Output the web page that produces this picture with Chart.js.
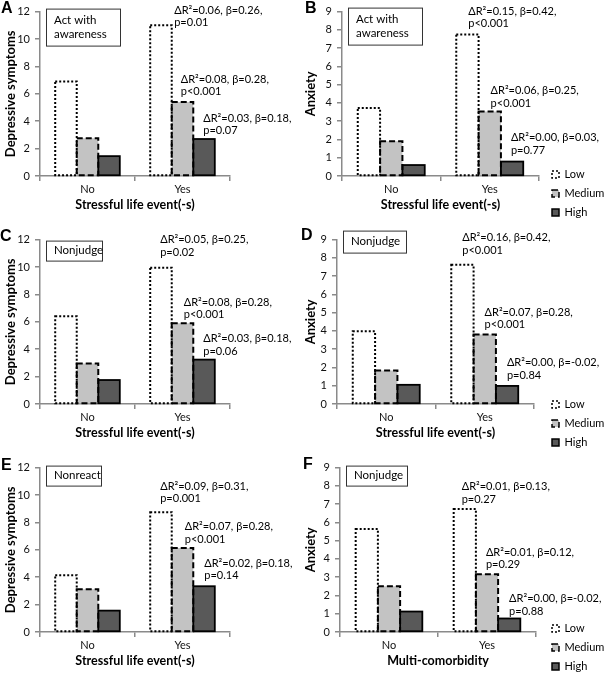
<!DOCTYPE html>
<html>
<head>
<meta charset="utf-8">
<script src="https://cdn.jsdelivr.net/npm/chart.js@4"></script>
<style>
  body { margin: 0; background: #fff; }
  #fig { position: relative; width: 604px; height: 673px; }
  #fig canvas { position: absolute; }
</style>
</head>
<body>
<div id="fig">
  <canvas id="pA" width="300" height="222" style="left:0;top:0"></canvas>
  <canvas id="pB" width="304" height="222" style="left:300px;top:0"></canvas>
  <canvas id="pC" width="300" height="222" style="left:0;top:228px"></canvas>
  <canvas id="pD" width="304" height="222" style="left:300px;top:228px"></canvas>
  <canvas id="pE" width="300" height="217" style="left:0;top:456px"></canvas>
  <canvas id="pF" width="304" height="217" style="left:300px;top:456px"></canvas>
</div>
<script>
// categories and levels
const groups = ["No", "Yes"];
const levels = ["Low", "Medium", "High"];

// mean scores per panel (No, Yes)
const aLow = [6.9, 11.0], aMed = [2.75, 5.4], aHigh = [1.45, 2.7];
const bLow = [3.72, 7.75], bMed = [1.9, 3.53], bHigh = [0.6, 0.79];
const cLow = [6.4, 9.95], cMed = [2.95, 5.9], cHigh = [1.75, 3.24];
const dLow = [3.98, 7.62], dMed = [1.84, 3.81], dHigh = [1.05, 0.99];
const eLow = [4.15, 8.75], eMed = [3.12, 6.14], eHigh = [1.56, 3.34];
const fLow = [5.64, 6.74], fMed = [2.51, 3.16], fHigh = [1.12, 0.74];

// regression notes for the "Yes" bars (Low, Medium, High)
const aNotes = [["ΔR²=0.06, β=0.26,", "p=0.01"], ["ΔR²=0.08, β=0.28,", "p<0.001"], ["ΔR²=0.03, β=0.18,", "p=0.07"]];
const bNotes = [["ΔR²=0.15, β=0.42,", "p<0.001"], ["ΔR²=0.06, β=0.25,", "p<0.001"], ["ΔR²=0.00, β=0.03,", "p=0.77"]];
const cNotes = [["ΔR²=0.05, β=0.25,", "p=0.02"], ["ΔR²=0.08, β=0.28,", "p<0.001"], ["ΔR²=0.03, β=0.18,", "p=0.06"]];
const dNotes = [["ΔR²=0.16, β=0.42,", "p<0.001"], ["ΔR²=0.07, β=0.28,", "p<0.001"], ["ΔR²=0.00, β=-0.02,", "p=0.84"]];
const eNotes = [["ΔR²=0.09, β=0.31,", "p=0.001"], ["ΔR²=0.07, β=0.28,", "p<0.001"], ["ΔR²=0.02, β=0.18,", "p=0.14"]];
const fNotes = [["ΔR²=0.01, β=0.13,", "p=0.27"], ["ΔR²=0.01, β=0.12,", "p=0.29"], ["ΔR²=0.00, β=-0.02,", "p=0.88"]];

const FONT = "Lato, 'DejaVu Sans', sans-serif";
const AXIS = "#8a8a8a";

const panels = [
  { id: "pA", letter: "A", letterAt: [1, 9], yTitle: "Depressive symptoms", xTitle: "Stressful life event(-s)",
    yMax: 12, yStep: 2, vals: [aLow, aMed, aHigh], notes: aNotes,
    noteAt: [[24, -15], [9, -23], [10, -21]], boxText: ["Act with", "awareness"], box: [6, -3, 74, 37],
    yWidth: 40, padRight: 70, padBottom: 5 },
  { id: "pB", letter: "B", letterAt: [5, 9], yTitle: "Anxiety", xTitle: "Stressful life event(-s)",
    yMax: 9, yStep: 1, vals: [bLow, bMed, bHigh], notes: bNotes,
    noteAt: [[12, -23], [12, -21], [10, -24]], boxText: ["Act with", "awareness"], box: [6, -4, 74, 37],
    yWidth: 42, padRight: 5, padBottom: 5, legend: true, legendDy: 9 },
  { id: "pC", letter: "C", letterAt: [0, 9], yTitle: "Depressive symptoms", xTitle: "Stressful life event(-s)",
    yMax: 12, yStep: 2, vals: [cLow, cMed, cHigh], notes: cNotes,
    noteAt: [[10, -28], [12, -21], [10, -21]], boxText: ["Nonjudge"], box: [6, 1, 56, 20],
    yWidth: 40, padRight: 70, padBottom: 5 },
  { id: "pD", letter: "D", letterAt: [1, 8], yTitle: "Anxiety", xTitle: "Stressful life event(-s)",
    yMax: 9, yStep: 1, vals: [dLow, dMed, dHigh], notes: dNotes,
    noteAt: [[11, -27], [11, -22], [11, -23]], boxText: ["Nonjudge"], box: [6, -9, 63, 22],
    yWidth: 37, padRight: 10, padBottom: 5, legend: true, legendDy: 11 },
  { id: "pE", letter: "E", letterAt: [1, 10], yTitle: "Depressive symptoms", xTitle: "Stressful life event(-s)",
    yMax: 12, yStep: 2, vals: [eLow, eMed, eHigh], notes: eNotes,
    noteAt: [[10, -26], [13, -21], [11, -23]], boxText: ["Nonreact"], box: [6, -2, 55, 20],
    yWidth: 40, padRight: 70, padBottom: 0 },
  { id: "pF", letter: "F", letterAt: [3, 9], yTitle: "Anxiety", xTitle: "Multi-comorbidity",
    yMax: 9, yStep: 1, vals: [fLow, fMed, fHigh], notes: fNotes,
    noteAt: [[8, -22], [10, -22], [11, -20]], boxText: ["Nonjudge"], box: [6, -2, 61, 20],
    yWidth: 40, padRight: 8, padBottom: 0, legend: true, legendDy: 7 }
];

const barStyles = [
  { fill: "#ffffff", dash: [2, 2], width: 2 },
  { fill: "#c3c3c3", dash: [6, 3], width: 2 },
  { fill: "#595959", dash: [], width: 1.8 }
];

// Chart.js bars can't dash their borders, so stroke the outlines ourselves
const outlines = {
  id: "outlines",
  afterDatasetsDraw(chart) {
    const ctx = chart.ctx;
    chart.data.datasets.forEach((ds, i) => {
      const meta = chart.getDatasetMeta(i);
      ctx.save();
      ctx.strokeStyle = "#000";
      ctx.lineWidth = ds.edgeWidth;
      ctx.setLineDash(ds.edgeDash);
      meta.data.forEach(bar => {
        const { x, y, base, width } = bar.getProps(["x", "y", "base", "width"], true);
        ctx.strokeRect(x - width / 2, y, width, base - y);
      });
      ctx.restore();
    });
  }
};

// letter, subscale box and the regression notes
const notes = {
  id: "notes",
  afterDraw(chart, args, o) {
    const { ctx, chartArea: ca } = chart;
    ctx.save();
    ctx.textAlign = "left";
    ctx.textBaseline = "middle";
    ctx.fillStyle = "#000";
    ctx.font = "bold 16px 'Liberation Sans', Arial, sans-serif";
    ctx.fillText(o.letter, o.letterAt[0], o.letterAt[1]);

    const [bx, by, bw, bh] = o.box;
    const x0 = ca.left + bx, y0 = Math.max(ca.top + by, 0.5);
    ctx.fillStyle = "#fff";
    ctx.fillRect(x0, y0, bw, bh);
    ctx.strokeStyle = "#333";
    ctx.lineWidth = 1;
    ctx.strokeRect(x0 + 0.5, y0 + 0.5, bw, bh);
    ctx.fillStyle = "#000";
    ctx.font = "11.5px " + FONT;
    const n = o.boxText.length;
    o.boxText.forEach((t, k) => {
      ctx.fillText(t, x0 + 8, y0 + bh / 2 + (k - (n - 1) / 2) * 14);
    });

    ctx.font = "11px " + FONT;
    o.notes.forEach((lines, i) => {
      const bar = chart.getDatasetMeta(i).data[1];
      const left = bar.x - bar.width / 2 + o.noteAt[i][0];
      const top = bar.y + o.noteAt[i][1];
      lines.forEach((t, k) => ctx.fillText(t, left, top + k * 12.5));
    });
    ctx.restore();
  }
};

// nudge the legend to where it sits in the figure
const legendShift = {
  id: "legendShift",
  afterLayout(chart, args, o) {
    const lg = chart.legend;
    if (!lg || o.left == null) return;
    const dx = o.left - lg.left;
    lg.left += dx; lg.right += dx;
    lg.top += o.dy; lg.bottom += o.dy;
  }
};

panels.forEach(p => {
  const datasets = levels.map((name, i) => ({
    label: name,
    data: p.vals[i],
    backgroundColor: barStyles[i].fill,
    borderWidth: 0,
    edgeDash: barStyles[i].dash,
    edgeWidth: barStyles[i].width,
    categoryPercentage: 0.68,
    barPercentage: 1
  }));

  new Chart(document.getElementById(p.id), {
    type: "bar",
    data: { labels: groups, datasets },
    plugins: [outlines, notes, legendShift],
    options: {
      responsive: false,
      animation: false,
      layout: { padding: { top: 9.5, right: p.padRight, left: 0, bottom: p.padBottom } },
      scales: {
        x: {
          afterFit: s => { s.height = 41; },
          grid: { drawOnChartArea: false, color: AXIS, lineWidth: 1.5, tickLength: 5 },
          border: { color: AXIS, width: 1.5 },
          ticks: { color: "#111", font: { family: FONT, size: 11 }, padding: 2 },
          title: { display: true, text: p.xTitle, color: "#000", font: { family: FONT, size: 12.5, weight: "bold" }, padding: { top: 0, bottom: 5 } }
        },
        y: {
          min: 0, max: p.yMax,
          afterFit: s => { s.width = p.yWidth; },
          grid: { drawOnChartArea: false, color: AXIS, lineWidth: 1.5, tickLength: 5 },
          border: { color: AXIS, width: 1.5 },
          ticks: { stepSize: p.yStep, color: "#111", font: { family: FONT, size: 11 }, padding: 5 },
          title: { display: true, text: p.yTitle, color: "#000", font: { family: FONT, size: 13, weight: "bold" }, padding: { top: 3, bottom: 0 } }
        }
      },
      plugins: {
        tooltip: { enabled: false },
        legend: {
          display: !!p.legend,
          position: "right",
          align: "end",
          maxWidth: 60,
          labels: {
            boxWidth: 7, boxHeight: 7, padding: 8, color: "#000",
            font: { family: FONT, size: 11 },
            generateLabels: chart => chart.data.datasets.map((ds, i) => ({
              text: ds.label, fillStyle: ds.backgroundColor, strokeStyle: "#000",
              lineWidth: 1.5, lineDash: ds.edgeDash, datasetIndex: i, hidden: false
            }))
          }
        },
        legendShift: { left: p.legend ? 244 : null, dy: p.legendDy || 0 },
        notes: { letter: p.letter, letterAt: p.letterAt, box: p.box, boxText: p.boxText, notes: p.notes, noteAt: p.noteAt }
      }
    }
  });
});
</script>
</body>
</html>
